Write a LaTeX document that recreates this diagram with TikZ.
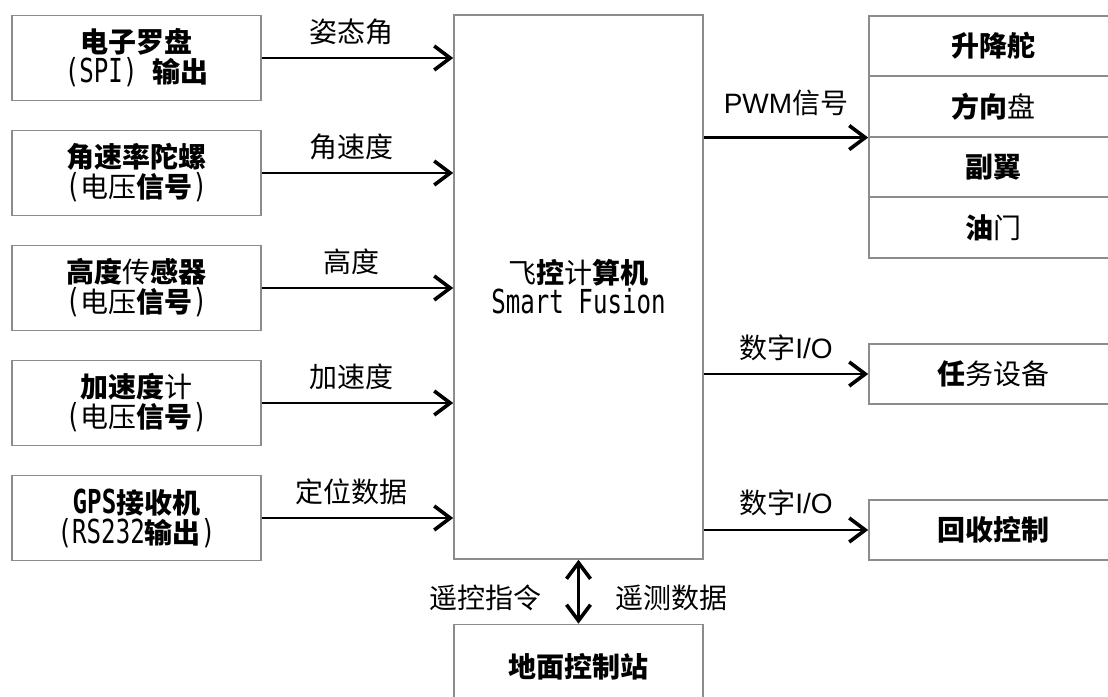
\documentclass[tikz,border=0pt]{standalone}
\usepackage{fontspec}
\setmainfont{Noto Sans CJK SC}
\newfontfamily\hwfont{DejaVu Sans Mono}[Scale=1.18,FakeStretch=0.73]
\newfontfamily\enfont{Liberation Sans}
\newcommand{\hw}[1]{{\hwfont #1}}
\newcommand{\en}[1]{{\enfont #1}}
\usetikzlibrary{arrows.meta,positioning}

\begin{document}
\begin{tikzpicture}[x=1pt,y=-1pt,
		font=\fontsize{28}{30}\selectfont,
		>={Straight Barb[length=16pt,width=24pt,line width=3.6pt]},
		blk/.style={draw=black!45, line width=1.6pt, minimum width=249pt, minimum height=85pt, align=center, inner sep=0pt},
		srv/.style={blk, minimum width=248pt, minimum height=60.5pt},
		sig/.style={line width=2.2pt, ->},
		lbl/.style={inner sep=0pt}]
		\useasboundingbox (0,0) rectangle (1108,696);
		
		% sensors
		\node[blk] (cmp) at (136.5,58)  {\textbf{电子罗盘}\\\hw{(SPI) }\textbf{输出}};
		\node[blk] (gyr) at (136.5,173) {\textbf{角速率陀螺}\\\hw{(}电压\textbf{信号}\hw{)}};
		\node[blk] (alt) at (136.5,288) {\textbf{高度}传\textbf{感器}\\\hw{(}电压\textbf{信号}\hw{)}};
		\node[blk] (acc) at (136.5,403) {\textbf{加速度}计\\\hw{(}电压\textbf{信号}\hw{)}};
		\node[blk] (gps) at (136.5,518) {\textbf{\hw{GPS}接收机}\\\hw{(RS232}\textbf{输出}\hw{)}};
		
		% flight computer
		\node[blk, minimum height=544pt] (fcc) at (578.5,287) {飞\textbf{控}计\textbf{算机}\\\hw{Smart Fusion}};
		
		% servos
		\node[srv] (elv) at (993,46) {\textbf{升降舵}};
		\node[srv, below=-1.6pt of elv] (rud) {\textbf{方向}盘};
		\node[srv, below=-1.6pt of rud] (ail) {\textbf{副翼}};
		\node[srv, below=-1.6pt of ail] (thr) {\textbf{油}门};
		\node[srv] (pay) at (993,374) {\textbf{任}务设备};
		\node[srv] (rec) at (993,530) {\textbf{回收控制}};
		
		% ground station
		\node[blk] (gcs) at (578.5,667) {\textbf{地面控制站}};
		
		\draw[sig] (cmp.east) -- (cmp.east -| fcc.west) node[lbl, pos=.47, above=12pt] {姿态角};
		\draw[sig] (gyr.east) -- (gyr.east -| fcc.west) node[lbl, pos=.47, above=12pt] {角速度};
		\draw[sig] (alt.east) -- (alt.east -| fcc.west) node[lbl, pos=.47, above=12pt] {高度};
		\draw[sig] (acc.east) -- (acc.east -| fcc.west) node[lbl, pos=.47, above=12pt] {加速度};
		\draw[sig] (gps.east) -- (gps.east -| fcc.west) node[lbl, pos=.47, above=12pt] {定位数据};
		
		\draw[sig] (rud.south west -| fcc.east) -- (rud.south west) node[lbl, midway, above=21pt] {\en{PWM}信号};
		\draw[sig] (pay.west -| fcc.east) -- (pay.west) node[lbl, midway, above=12pt] {数字\en{I/O}};
		\draw[sig] (rec.west -| fcc.east) -- (rec.west) node[lbl, midway, above=13pt] {数字\en{I/O}};
		
		\draw[sig, <->] (fcc.south) -- (gcs.north)
		node[lbl, midway, left=36pt, yshift=-6pt] {遥控指令}
		node[lbl, midway, right=36pt, yshift=-6pt] {遥测数据};
\end{tikzpicture}
\end{document}
